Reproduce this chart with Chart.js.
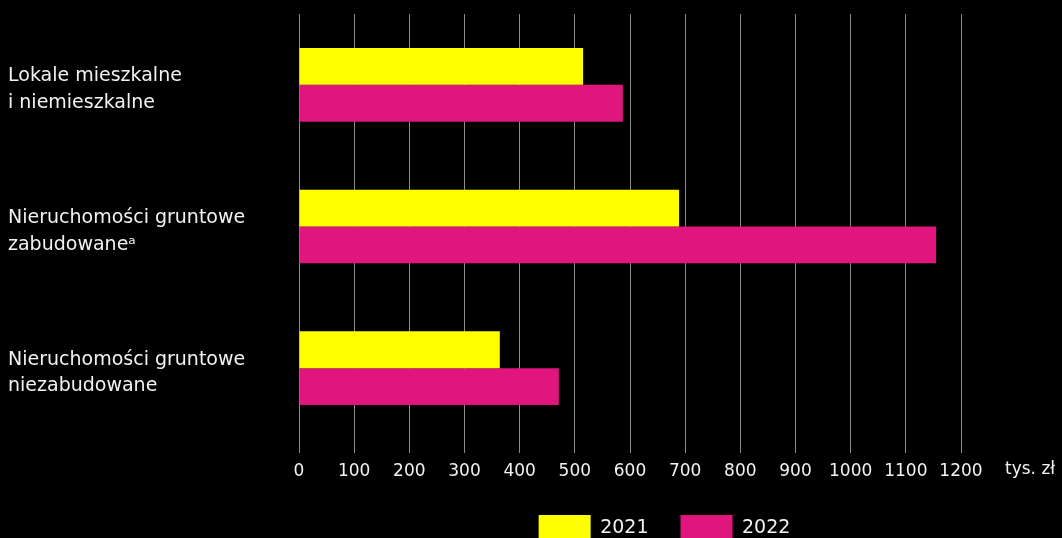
<!DOCTYPE html>
<html>
<head>
<meta charset="utf-8">
<script src="https://cdn.jsdelivr.net/npm/chart.js@4.4.0/dist/chart.umd.min.js"></script>
<style>
  html, body { margin: 0; padding: 0; background: #000; overflow: hidden; width: 1062px; height: 538px; }
  canvas { display: block; }
</style>
</head>
<body>
<canvas id="chart" width="1062" height="551"></canvas>
<script>
// data
const categories = [
  ['Lokale mieszkalne', 'i niemieszkalne'],
  ['Nieruchomości gruntowe', 'zabudowaneᵃ'],
  ['Nieruchomości gruntowe', 'niezabudowane']
];
const seriesNames = ['2021', '2022'];
const values2021 = [515, 689, 364];
const values2022 = [587, 1155, 471];
const xMax = 1200;
const xStep = 100;
const unitLabel = 'tys. zł';

const FONT = "'DejaVu Sans', sans-serif";

// unit text next to the last tick + nudge legend to the right
const extras = {
  id: 'extras',
  afterLayout(chart) {
    const lg = chart.legend;
    lg.left += 180;
    lg.right += 180;
  },
  afterDraw(chart) {
    const x = chart.scales.x;
    const ctx = chart.ctx;
    ctx.save();
    ctx.fillStyle = '#f2f2f2';
    ctx.font = "17px " + FONT;
    ctx.textAlign = 'left';
    ctx.textBaseline = 'middle';
    ctx.fillText(unitLabel, x.right + 44, x.top + 31);
    ctx.restore();
  }
};

new Chart(document.getElementById('chart'), {
  type: 'bar',
  data: {
    labels: categories,
    datasets: [
      { label: seriesNames[0], data: values2021, backgroundColor: '#ffff00' },
      { label: seriesNames[1], data: values2022, backgroundColor: '#e0167e' }
    ]
  },
  options: {
    indexAxis: 'y',
    responsive: false,
    animation: false,
    layout: { padding: { left: 8, top: 14, right: 101, bottom: 0 } },
    datasets: { bar: { categoryPercentage: 0.52, barPercentage: 1.0 } },
    scales: {
      x: {
        min: 0,
        max: xMax,
        border: { display: false },
        grid: { color: '#8c8c8c', lineWidth: 1, tickLength: 14 },
        ticks: {
          stepSize: xStep,
          color: '#f2f2f2',
          padding: 8,
          font: { family: FONT, size: 17 },
          callback: (v) => String(v)
        },
        afterFit(scale) { scale.height = 44; }
      },
      y: {
        border: { display: false },
        grid: { display: false },
        ticks: {
          crossAlign: 'far',
          labelOffset: 5,
          color: '#f2f2f2',
          font: { family: FONT, size: 19, lineHeight: 1.4 }
        },
        afterFit(scale) {
          scale.width = 291;
          scale.paddingTop = 0;
          scale.paddingBottom = 0;
        }
      }
    },
    plugins: {
      legend: {
        position: 'bottom',
        labels: {
          color: '#f2f2f2',
          boxWidth: 52,
          boxHeight: 26,
          padding: 32,
          font: { family: FONT, size: 19 }
        }
      },
      tooltip: { enabled: false }
    }
  },
  plugins: [extras]
});
</script>
</body>
</html>
